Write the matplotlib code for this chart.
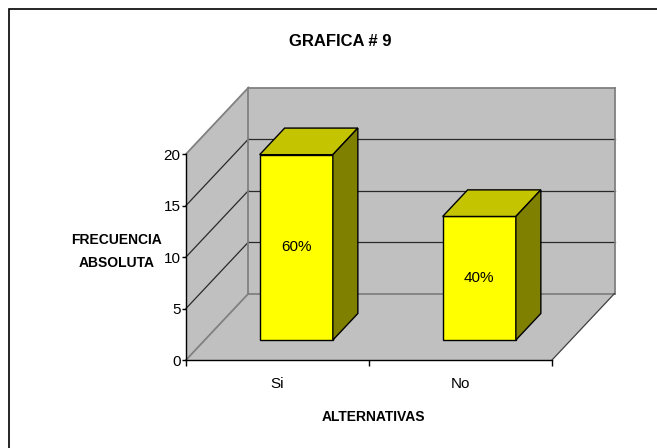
import matplotlib
matplotlib.use("Agg")
import matplotlib.pyplot as plt
from matplotlib.patches import Polygon, Rectangle
from matplotlib.lines import Line2D

# Datos de la gráfica
categorias = ["Si", "No"]
frecuencia = [18, 12]
porcentajes = ["60%", "40%"]
y_ticks = [0, 5, 10, 15, 20]

titulo = "GRAFICA # 9"
etiqueta_x = "ALTERNATIVAS"
etiqueta_y = "FRECUENCIA\nABSOLUTA"

plt.rcParams["font.family"] = ["Liberation Sans", "DejaVu Sans"]

fig = plt.figure(figsize=(6.57, 4.48), dpi=100)
ax = fig.add_axes([0.2831, 0.1964, 0.5571, 0.4598])
ax.patch.set_visible(False)

n = len(categorias)
x0, x1 = -0.5, n - 0.5
ymax = y_ticks[-1]
ax.set_xlim(x0, x1)
ax.set_ylim(0, ymax)

# oblique offset (data units) for one full unit of depth
DX, DY = 0.3415, 6.456

WALL = "#c0c0c0"
EDGE = "#808080"
GRID = "#2a2a2a"


def proj(x, y, d):
    return (x + d * DX, y + d * DY)


def face(pts, **kw):
    ax.add_patch(Polygon([proj(*p) for p in pts], closed=True,
                         clip_on=False, **kw))


def seg(p, q, **kw):
    a, b = proj(*p), proj(*q)
    ax.add_line(Line2D([a[0], b[0]], [a[1], b[1]], clip_on=False, **kw))


# floor, side wall and back wall
face([(x0, 0, 0), (x1, 0, 0), (x1, 0, 1), (x0, 0, 1)], fc=WALL, ec="none", zorder=0)
face([(x0, 0, 0), (x0, 0, 1), (x0, ymax, 1), (x0, ymax, 0)], fc=WALL, ec="none", zorder=0)
face([(x0, 0, 1), (x1, 0, 1), (x1, ymax, 1), (x0, ymax, 1)], fc=WALL, ec="none", zorder=0)

# gridlines on the walls
for v in y_ticks[1:-1]:
    seg((x0, v, 0), (x0, v, 1), color=GRID, lw=0.9, zorder=0.5)
    seg((x0, v, 1), (x1, v, 1), color=GRID, lw=0.9, zorder=0.5)

# wall edges
edge_kw = dict(color=EDGE, lw=1.3, zorder=0.6)
seg((x0, ymax, 0), (x0, ymax, 1), **edge_kw)
seg((x0, ymax, 1), (x1, ymax, 1), **edge_kw)
seg((x1, ymax, 1), (x1, 0, 1), **edge_kw)
seg((x1, 0, 1), (x0, 0, 1), **edge_kw)
seg((x0, 0, 1), (x0, ymax, 1), **edge_kw)
seg((x0, 0, 0), (x0, 0, 1), **edge_kw)
seg((x1, 0, 0), (x1, 0, 1), color="#404040", lw=0.9, zorder=0.6)

# 3D bars
w = 0.4
d0, d1 = 0.3, 0.7
for i, (v, txt) in enumerate(zip(frecuencia, porcentajes)):
    xl, xr = i - w / 2, i + w / 2
    face([(xl, 0, d0), (xr, 0, d0), (xr, v, d0), (xl, v, d0)],
         fc="#ffff00", ec="black", lw=1.0, zorder=2)
    face([(xl, v, d0), (xr, v, d0), (xr, v, d1), (xl, v, d1)],
         fc="#c4c400", ec="black", lw=1.0, zorder=2)
    face([(xr, 0, d0), (xr, 0, d1), (xr, v, d1), (xr, v, d0)],
         fc="#808000", ec="black", lw=1.0, zorder=2)
    cx, cy = proj(i, v / 2, d0)
    ax.text(cx, cy, txt, ha="center", va="center", fontsize=11, zorder=3)

# axes
for s in ("top", "right"):
    ax.spines[s].set_visible(False)
for s in ("left", "bottom"):
    ax.spines[s].set_color("black")
    ax.spines[s].set_linewidth(1.0)

ax.set_yticks(y_ticks)
ax.tick_params(axis="y", direction="out", length=3, width=1.0, pad=1,
               labelsize=11)
ax.set_xticks([x0 + k for k in range(n + 1)])
ax.set_xticklabels([])
ax.set_xticks(list(range(n)), minor=True)
ax.set_xticklabels(categorias, minor=True)
ax.tick_params(axis="x", which="major", direction="out", length=4, width=1.0)
ax.tick_params(axis="x", which="minor", length=0, pad=12, labelsize=11)

ax.set_xlabel(etiqueta_x, fontsize=10, fontweight="bold")
ax.xaxis.set_label_coords(0.511, -0.245)
ax.set_ylabel(etiqueta_y, fontsize=10, fontweight="bold", rotation=0,
              ha="center", va="center", linespacing=1.75)
ax.yaxis.set_label_coords(-0.19, 0.527)

fig.text(340 / 657, 1 - 41 / 448, titulo, ha="center", va="center",
         fontsize=12, fontweight="bold")

# chart frame
fig.add_artist(Rectangle((9 / 657, -0.1), 1.2, 1.1 - 9 / 448,
                         transform=fig.transFigure, fill=False,
                         ec="black", lw=1.2))

fig.savefig("out.png", dpi=100)
